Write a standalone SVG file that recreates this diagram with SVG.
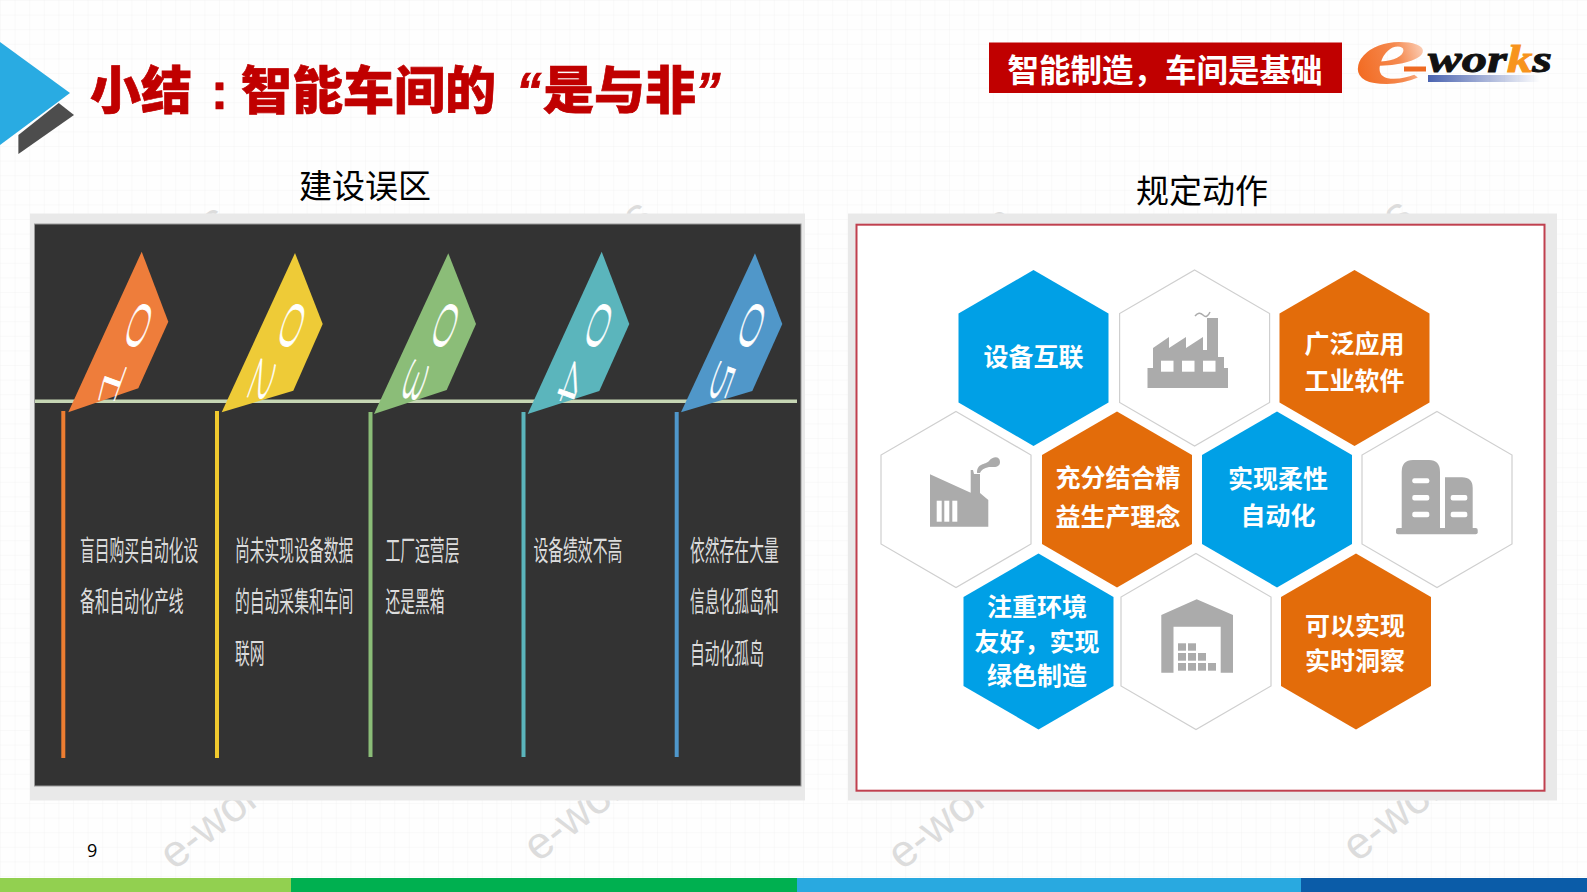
<svg xmlns="http://www.w3.org/2000/svg" width="1587" height="892" viewBox="0 0 1587 892">
<style>
text{font-family:"Noto Sans CJK SC","Liberation Sans",sans-serif}
.hx{font-size:25px;font-weight:700;fill:#fff;text-anchor:middle}
.cap{font-size:33px;fill:#000;text-anchor:middle}
.wm{font-family:"Liberation Sans",sans-serif;font-size:45px;fill:#dcdcdc}
.col{font-size:14.800px;fill:#dcdcdc}
.dg{font-family:"DejaVu Sans",sans-serif;font-size:24px;font-weight:200;fill:#fff;stroke:#fff;stroke-width:.25;text-anchor:middle}
.blue{fill:#00a0e6}.org{fill:#e36c0a}.wht{fill:#fff;stroke:#cfcfcf;stroke-width:1.2}
.ic{fill:#ababab}.w{fill:#fff}
.vl{stroke-width:4}
</style>
<defs>
<pattern id="grid" width="14.6" height="14.6" patternUnits="userSpaceOnUse"><path d="M14.6 0H0V14.6" fill="none" stroke="#f4f4f4" stroke-width="1"/></pattern>
<polygon id="hex" points="0,-88 75,-44.5 75,44.5 0,88 -75,44.5 -75,-44.5"/>
<clipPath id="above"><rect x="0" y="200" width="1587" height="201"/></clipPath>
<linearGradient id="eg" x1="0" y1="0.6" x2="1" y2="0.2"><stop offset="0" stop-color="#f26a21"/><stop offset=".55" stop-color="#f58a50"/><stop offset="1" stop-color="#fde6da"/></linearGradient>
<linearGradient id="bar"><stop offset="0" stop-color="#4a63b0"/><stop offset="1" stop-color="#4a63b0" stop-opacity="0"/></linearGradient>
</defs>
<rect width="1587" height="892" fill="#fefefe"/>
<rect width="1587" height="892" fill="url(#grid)"/>

<g id="watermarks">
<text class="wm" transform="translate(174,871) rotate(-38)">e-works</text>
<text class="wm" transform="translate(538,863) rotate(-38)">e-works</text>
<text class="wm" transform="translate(902,871) rotate(-38)">e-works</text>
<text class="wm" transform="translate(1357,863) rotate(-38)">e-works</text>
<text class="wm" text-anchor="end" transform="translate(231,225) rotate(-38)">e-works</text>
<text class="wm" text-anchor="end" transform="translate(655,220) rotate(-38)">e-works</text>
<text class="wm" text-anchor="end" transform="translate(1017,227) rotate(-38)">e-works</text>
<text class="wm" text-anchor="end" transform="translate(1415,219) rotate(-38)">e-works</text>
</g>

<g id="corner-arrow">
<polygon points="18.4,135 58.7,103 74,115 18.4,154" fill="#4d4d4d"/>
<polygon points="0,42 70,93 0,145" fill="#29abe2"/>
</g>
<text id="title" y="109" font-size="51" font-weight="900" fill="#c00000" stroke="#c00000" stroke-width=".7"><tspan x="90">小结</tspan><tspan x="211" style="font-family:'Liberation Sans',sans-serif">:</tspan><tspan x="241">智能车间的</tspan><tspan x="516" font-style="italic" style="font-family:'Liberation Sans',sans-serif">“</tspan><tspan x="543">是与非</tspan><tspan x="695" font-style="italic" style="font-family:'Liberation Sans',sans-serif">”</tspan></text>
<g id="banner">
<rect x="989" y="42.5" width="353" height="50.5" fill="#c00000"/>
<text x="1165" y="82" font-size="31.5" font-weight="700" fill="#fff" text-anchor="middle">智能制造，车间是基础</text>
</g>
<g id="logo">
<text transform="translate(1354,83) scale(1.9,1)" font-size="86" font-style="italic" font-weight="700" fill="url(#eg)" style="font-family:'Liberation Serif',serif">e</text>
<rect x="1404" y="66.5" width="22" height="5" fill="#ee6a22"/>
<text x="1428" y="72" font-size="38" font-weight="700" font-style="italic" textLength="124" lengthAdjust="spacingAndGlyphs" fill="#111" stroke="#111" stroke-width=".9" style="font-family:'Liberation Serif',serif">wor<tspan fill="#f7941d" stroke="#f7941d">k</tspan>s</text>
<rect x="1428" y="75" width="112" height="7" fill="url(#bar)"/>
</g>
<text id="cap-left" class="cap" x="365" y="198">建设误区</text>
<text id="cap-right" class="cap" x="1202" y="203">规定动作</text>

<g id="panel-left">
<rect x="30" y="213.500" width="775" height="587" fill="#e9e9e9"/>
<rect x="34.500" y="224" width="766.500" height="562" fill="#333333" stroke="#9a9a9a" stroke-width="1"/>
</g>

<g id="connectors">
<line x1="35" y1="401.300" x2="797" y2="401.300" stroke="#c6d6b4" stroke-width="3.500"/>
<line class="vl" x1="63.300" y1="411" x2="63.300" y2="758" stroke="#ed7d31"/>
<line class="vl" x1="217" y1="411" x2="217" y2="758" stroke="#f0c92e"/>
<line class="vl" x1="370.500" y1="412" x2="370.500" y2="757" stroke="#8bbd78"/>
<line class="vl" x1="523.500" y1="412" x2="523.500" y2="757" stroke="#5bb5bc"/>
<line class="vl" x1="676.700" y1="412" x2="676.700" y2="757" stroke="#4f97cb"/>
</g>

<g id="step-01">
<polygon points="141.700,251.700 168.300,321.700 138.300,388.300 68.300,412.300" fill="#ee7d3b"/>
<g clip-path="url(#above)">
<text class="dg" transform="translate(130.500,322.700) rotate(110) scale(4,1)">0</text>
<text class="dg" transform="translate(120,386) rotate(-70) scale(4,1)">1</text>
</g>
<g transform="translate(80,552) scale(1,1.9)"><text class="col" x="0" y="4.500">盲目购买自动化设</text><text class="col" y="31.700" x="0">备和自动化产线</text></g>
</g>
<g id="step-02">
<polygon points="295,253 322.700,324 293.300,390.700 221.700,412.300" fill="#eecb37"/>
<g clip-path="url(#above)">
<text class="dg" transform="translate(283.800,322.700) rotate(110) scale(4,1)">0</text>
<text class="dg" transform="translate(253.500,379) rotate(110) scale(3.600,1)">2</text>
</g>
<g transform="translate(235,552) scale(1,1.9)"><text class="col" x="0" y="4.500">尚未实现设备数据</text><text class="col" x="0" y="31.700">的自动采集和车间</text><text class="col" x="0" y="58.900">联网</text></g>
</g>
<g id="step-03">
<polygon points="448.300,253.300 476,324 446.700,390 374,414" fill="#8bbd78"/>
<g clip-path="url(#above)">
<text class="dg" transform="translate(437.200,322.700) rotate(110) scale(4,1)">0</text>
<text class="dg" transform="translate(406.500,379) rotate(110) scale(3.600,1)">3</text>
</g>
<g transform="translate(385.500,552) scale(1,1.9)"><text class="col" x="0" y="4.500">工厂运营层</text><text class="col" x="0" y="31.700">还是黑箱</text></g>
</g>
<g id="step-04">
<polygon points="601.700,251.700 629.300,324 599.300,391 527.700,414" fill="#5bb5bc"/>
<g clip-path="url(#above)">
<text class="dg" transform="translate(590.500,322.700) rotate(110) scale(4,1)">0</text>
<text class="dg" transform="translate(561.500,382) rotate(110) scale(3.600,1)">4</text>
</g>
<g transform="translate(533.500,552) scale(1,1.9)"><text class="col" x="0" y="4.500">设备绩效不高</text></g>
</g>
<g id="step-05">
<polygon points="755,253.300 782.300,324 752.300,391 681,412.300" fill="#5097c9"/>
<g clip-path="url(#above)">
<text class="dg" transform="translate(743.500,322.700) rotate(110) scale(4,1)">0</text>
<text class="dg" transform="translate(713.500,379) rotate(110) scale(3.600,1)">5</text>
</g>
<g transform="translate(690,552) scale(1,1.9)"><text class="col" x="0" y="4.500">依然存在大量</text><text class="col" x="0" y="31.700">信息化孤岛和</text><text class="col" x="0" y="58.900">自动化孤岛</text></g>
</g>

<g id="panel-right">
<rect x="848" y="213.500" width="709" height="587" fill="#e9e9e9"/>
<rect x="856.500" y="224.700" width="688" height="566" fill="#fff" stroke="#c0404f" stroke-width="2"/>
</g>

<g id="hex-1"><use href="#hex" x="1033.500" y="358" class="blue"/><text class="hx" x="1033.500" y="366">设备互联</text></g>
<g id="hex-2"><use href="#hex" x="1194.600" y="358" class="wht"/>
<path class="ic" d="M1147.500 388V368H1153V348L1169 337V348L1186 337V348L1203 337V350H1207V318H1218V357H1224V368H1228V388Z"/>
<path d="M1195 316q4-5 8-1t7-3" fill="none" stroke="#ababab" stroke-width="1.500"/>
<rect class="w" x="1161" y="360.700" width="12.500" height="11"/><rect class="w" x="1182" y="360.700" width="12.500" height="11"/><rect class="w" x="1203" y="360.700" width="12.500" height="11"/></g>
<g id="hex-3"><use href="#hex" x="1354.500" y="358" class="org"/><text class="hx" x="1354.500" y="353">广泛应用</text><text class="hx" x="1354.500" y="390">工业软件</text></g>
<g id="hex-4"><use href="#hex" x="956" y="499.500" class="wht"/>
<path class="ic" d="M930 474.300L970.700 492.700V470H973L974 474H980V493L988.300 500V526.700H930Z"/>
<path class="ic" d="M977 473C977 463 985 465 989 461C993 456 1000 456 1000 462C1000 468 993 467 989 467C984 468 981 470 980 473Z"/>
<rect class="w" x="936.700" y="500.700" width="5" height="21"/><rect class="w" x="944.300" y="500.700" width="5" height="21"/><rect class="w" x="952.300" y="500.700" width="5" height="21"/></g>
<g id="hex-5"><use href="#hex" x="1117" y="499.500" class="org"/><text class="hx" x="1118" y="487">充分结合精</text><text class="hx" x="1118" y="526">益生产理念</text></g>
<g id="hex-6"><use href="#hex" x="1277" y="499.500" class="blue"/><text class="hx" x="1278" y="488">实现柔性</text><text class="hx" x="1278" y="525">自动化</text></g>
<g id="hex-7"><use href="#hex" x="1437" y="499.500" class="wht"/>
<path class="ic" d="M1401.700 528V472Q1401.700 460 1413 460H1429Q1440 460 1440 472V528ZM1445 528V477.300H1462Q1472.700 477.300 1472.700 488V528Z"/>
<rect class="ic" x="1396" y="528" width="81.700" height="6.300" rx="2"/>
<rect class="w" x="1412.300" y="478.300" width="17" height="5" rx="2"/><rect class="w" x="1412.300" y="495" width="17" height="5.500" rx="2"/><rect class="w" x="1412.300" y="511.700" width="17" height="5.500" rx="2"/>
<rect class="w" x="1450.700" y="495" width="16.600" height="5.500" rx="2"/><rect class="w" x="1450.700" y="511.700" width="16.600" height="5.500" rx="2"/></g>
<g id="hex-8"><use href="#hex" x="1038.500" y="641.500" class="blue"/><text class="hx" x="1037" y="616">注重环境</text><text class="hx" x="1037" y="651">友好，实现</text><text class="hx" x="1037" y="685">绿色制造</text></g>
<g id="hex-9"><use href="#hex" x="1196" y="641.500" class="wht"/>
<path class="ic" d="M1161.300 672.700V615L1196.700 599.300L1233 615V672.700H1220.700V626.700H1173.500V672.700Z"/>
<g class="ic"><rect x="1178" y="643.300" width="8" height="7.400"/><rect x="1188" y="643.300" width="8" height="7.400"/>
<rect x="1178" y="653" width="8" height="7.700"/><rect x="1188" y="653" width="8" height="7.700"/><rect x="1198" y="653" width="8" height="7.700"/>
<rect x="1178" y="663" width="8" height="7.700"/><rect x="1188" y="663" width="8" height="7.700"/><rect x="1198" y="663" width="8" height="7.700"/><rect x="1208" y="663" width="8" height="7.700"/></g></g>
<g id="hex-10"><use href="#hex" x="1356" y="641.500" class="org"/><text class="hx" x="1355" y="635">可以实现</text><text class="hx" x="1355" y="670">实时洞察</text></g>

<text id="page" x="87" y="857" font-size="18" fill="#000" style="font-family:'Open Sans',sans-serif">9</text>
<g id="footer">
<rect x="0" y="878" width="291" height="14" fill="#92d050"/>
<rect x="291" y="878" width="506" height="14" fill="#00b050"/>
<rect x="797" y="878" width="504" height="14" fill="#29a9e0"/>
<rect x="1301" y="878" width="286" height="14" fill="#0b5ca8"/>
</g>
</svg>
